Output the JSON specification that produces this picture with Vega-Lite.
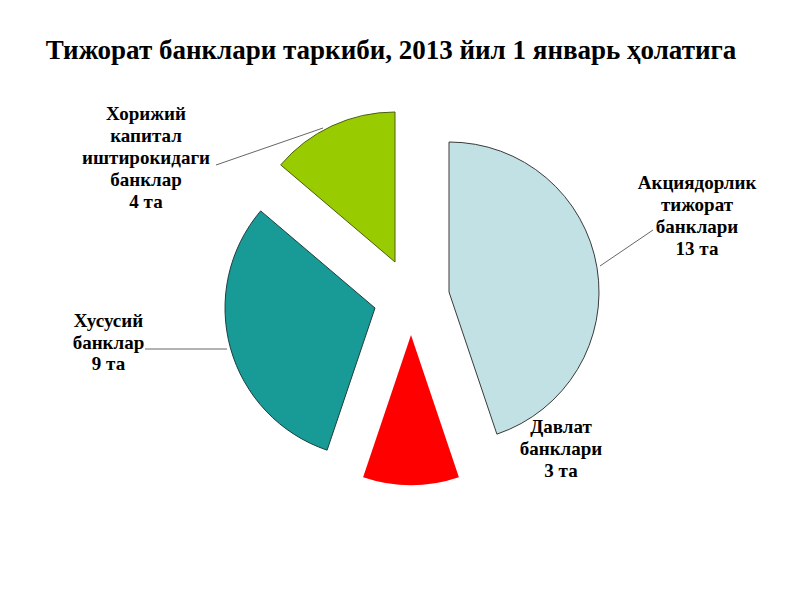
{
  "$schema": "https://vega.github.io/schema/vega-lite/v6.json",
  "width": 778,
  "height": 420,
  "autosize": "none",
  "padding": {"top": 80, "left": 22, "right": 0, "bottom": 100},
  "background": "white",
  "title": {
    "text": "Тижорат банклари таркиби, 2013 йил 1 январь ҳолатига",
    "font": "Liberation Serif",
    "fontSize": 27,
    "fontWeight": "bold",
    "color": "black",
    "anchor": "middle",
    "dx": -20,
    "offset": -3
  },
  "data": {
    "values": [
      {"n": 1, "name": "Акциядорлик тижорат банклари", "label": "Акциядорлик\nтижорат\nбанклари\n13 та", "count": 13},
      {"n": 2, "name": "Давлат банклари", "label": "Давлат\nбанклари\n3 та", "count": 3},
      {"n": 3, "name": "Хусусий банклар", "label": "Хусусий\nбанклар\n9 та", "count": 9},
      {"n": 4, "name": "Хорижий капитал иштирокидаги банклар", "label": "Хорижий\nкапитал\nиштирокидаги\nбанклар\n4 та", "count": 4}
    ]
  },
  "encoding": {
    "theta": {"field": "count", "type": "quantitative", "stack": true},
    "order": {"field": "n", "type": "quantitative"}
  },
  "layer": [
    {
      "mark": {"type": "arc", "outerRadius": 150, "fill": "#c2e1e4", "stroke": "#3a3a3a", "strokeWidth": 1, "xOffset": 38, "yOffset": 2},
      "encoding": {"opacity": {"condition": {"test": "datum.n === 1", "value": 1}, "value": 0}}
    },
    {
      "mark": {"type": "arc", "outerRadius": 150, "fill": "#ff0000", "strokeWidth": 0, "xOffset": 0, "yOffset": 45},
      "encoding": {"opacity": {"condition": {"test": "datum.n === 2", "value": 1}, "value": 0}}
    },
    {
      "mark": {"type": "arc", "outerRadius": 150, "fill": "#189a96", "stroke": "#1f3f3f", "strokeWidth": 1, "xOffset": -36, "yOffset": 18},
      "encoding": {"opacity": {"condition": {"test": "datum.n === 3", "value": 1}, "value": 0}}
    },
    {
      "mark": {"type": "arc", "outerRadius": 150, "fill": "#99cc00", "stroke": "#4a6010", "strokeWidth": 1, "xOffset": -16, "yOffset": -28},
      "encoding": {"opacity": {"condition": {"test": "datum.n === 4", "value": 1}, "value": 0}}
    },
    {
      "mark": {"type": "point", "shape": "M3.78,-0.48L4.84,-1.2", "size": 10000, "filled": false, "stroke": "#666666", "strokeWidth": 1},
      "encoding": {"opacity": {"condition": {"test": "datum.n === 1", "value": 1}, "value": 0}}
    },
    {
      "mark": {"type": "point", "shape": "M-5.32,1.18L-3.68,1.18", "size": 10000, "filled": false, "stroke": "#666666", "strokeWidth": 1},
      "encoding": {"opacity": {"condition": {"test": "datum.n === 3", "value": 1}, "value": 0}}
    },
    {
      "mark": {"type": "point", "shape": "M-3.9,-2.5L-1.76,-3.24", "size": 10000, "filled": false, "stroke": "#666666", "strokeWidth": 1},
      "encoding": {"opacity": {"condition": {"test": "datum.n === 4", "value": 1}, "value": 0}}
    },
    {
      "mark": {"type": "text", "radius": 150, "font": "Liberation Serif", "fontSize": 19, "fontWeight": "bold", "color": "black", "align": "center", "baseline": "alphabetic", "lineBreak": "\n", "lineHeight": 22, "dx": 138, "dy": -77},
      "encoding": {"text": {"field": "label"}, "opacity": {"condition": {"test": "datum.n === 1", "value": 1}, "value": 0}}
    },
    {
      "mark": {"type": "text", "radius": 150, "font": "Liberation Serif", "fontSize": 19, "fontWeight": "bold", "color": "black", "align": "center", "baseline": "alphabetic", "lineBreak": "\n", "lineHeight": 22, "dx": 150, "dy": -7},
      "encoding": {"text": {"field": "label"}, "opacity": {"condition": {"test": "datum.n === 2", "value": 1}, "value": 0}}
    },
    {
      "mark": {"type": "text", "radius": 150, "font": "Liberation Serif", "fontSize": 19, "fontWeight": "bold", "color": "black", "align": "center", "baseline": "alphabetic", "lineBreak": "\n", "lineHeight": 21.5, "dx": -158, "dy": -3},
      "encoding": {"text": {"field": "label"}, "opacity": {"condition": {"test": "datum.n === 3", "value": 1}, "value": 0}}
    },
    {
      "mark": {"type": "text", "radius": 150, "font": "Liberation Serif", "fontSize": 19, "fontWeight": "bold", "color": "black", "align": "center", "baseline": "alphabetic", "lineBreak": "\n", "lineHeight": 22, "dx": -202, "dy": -34},
      "encoding": {"text": {"field": "label"}, "opacity": {"condition": {"test": "datum.n === 4", "value": 1}, "value": 0}}
    }
  ],
  "config": {"view": {"stroke": null}}
}
